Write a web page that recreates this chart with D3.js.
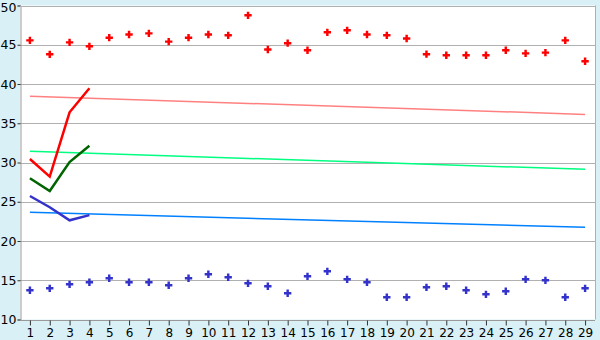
<!DOCTYPE html>
<html>
<head>
<meta charset="utf-8">
<script src="https://cdn.jsdelivr.net/npm/d3@7"></script>
<style>
  html, body { margin: 0; padding: 0; background: #d9f0f6; }
  svg { display: block; font-family: "DejaVu Sans", sans-serif; }
</style>
</head>
<body>
<svg id="chart" width="600" height="340"></svg>
<script>
// categories (x axis)
const days = d3.range(1, 30);
// scattered markers
const redPoints = [45.56, 43.78, 45.3, 44.8, 45.9, 46.3, 46.45, 45.4, 45.9, 46.3,
  46.2, 48.75, 44.4, 45.2, 44.3, 46.58, 46.84, 46.3, 46.2, 45.8,
  43.8, 43.66, 43.66, 43.66, 44.3, 43.9, 44.0, 45.56, 42.9];
const bluePoints = [13.72, 13.97, 14.48, 14.74, 15.25, 14.74, 14.74, 14.36, 15.25, 15.76,
  15.38, 14.61, 14.23, 13.34, 15.5, 16.14, 15.12, 14.74, 12.83, 12.83,
  14.1, 14.23, 13.72, 13.21, 13.6, 15.12, 14.99, 12.83, 13.97];
// short lines (first 4 days)
const redLine = [30.45, 28.2, 36.4, 39.45];
const greenLine = [28.0, 26.37, 30.06, 32.14];
const blueLine = [25.73, 24.3, 22.64, 23.3];
// trend lines: value at day 1 and day 29
const redTrend = [38.43, 36.13];
const greenTrend = [31.42, 29.13];
const blueTrend = [23.65, 21.74];
const yTicks = [10, 15, 20, 25, 30, 35, 40, 45, 50];

const svg = d3.select('#chart');
const pl = 20, pr = 595, pt = 5.5, pb = 319.5;

const x = d3.scalePoint().domain(days).range([pl, pr]).padding(0.5);
const y = d3.scaleLinear().domain([10, 50]).range([pb, pt]);

svg.append('rect')
  .attr('x', pl).attr('y', pt)
  .attr('width', pr - pl).attr('height', pb - pt)
  .attr('fill', 'white');

// grid
svg.append('g').selectAll('line')
  .data(yTicks.filter(d => d > 10))
  .join('line')
  .attr('x1', pl).attr('x2', pr)
  .attr('y1', d => Math.round(y(d)) + 0.5).attr('y2', d => Math.round(y(d)) + 0.5)
  .attr('stroke', '#b0b0b0').attr('stroke-width', 1);

// right border
svg.append('line')
  .attr('x1', pr + 0.5).attr('x2', pr + 0.5)
  .attr('y1', pt).attr('y2', pb)
  .attr('stroke', '#b0b0b0');

// y axis
const yAxis = svg.append('g')
  .attr('transform', `translate(${pl + 0.5},0)`)
  .call(d3.axisLeft(y).tickValues(yTicks).tickSize(3).tickPadding(1));
yAxis.select('.domain').attr('stroke', '#999');
yAxis.selectAll('line').attr('stroke', '#333');
yAxis.selectAll('text').attr('font-size', 12.5).attr('fill', '#000')
  .attr('font-family', '"DejaVu Sans", sans-serif');
// keep the top label inside the window
yAxis.selectAll('.tick text').filter(d => d === 50).attr('y', 1.5);

// x axis
const xAxis = svg.append('g')
  .attr('transform', `translate(0,${Math.round(pb) + 0.5})`)
  .call(d3.axisBottom(x).tickSize(5).tickPadding(3).tickSizeOuter(0));
xAxis.select('.domain').attr('stroke', '#999').attr('d', `M${pl},0H${pr}`);
xAxis.selectAll('line').attr('stroke', '#333');
xAxis.selectAll('text').attr('font-size', 12).attr('fill', '#000')
  .attr('font-family', '"DejaVu Sans", sans-serif');

// trend lines
const trends = [[redTrend, '#ff8080'], [greenTrend, '#00ff80'], [blueTrend, '#0080ff']];
trends.forEach(([t, c]) => {
  svg.append('line')
    .attr('x1', x(days[0])).attr('y1', y(t[0]))
    .attr('x2', x(days[days.length - 1])).attr('y2', y(t[1]))
    .attr('stroke', c).attr('stroke-width', 1.5);
});

// short lines
const line = d3.line().x((d, i) => x(days[i])).y(d => y(d));
[[redLine, '#ff0000'], [greenLine, '#006400'], [blueLine, '#3333cc']].forEach(([v, c]) => {
  svg.append('path')
    .attr('d', line(v))
    .attr('fill', 'none').attr('stroke', c).attr('stroke-width', 2.5);
});

// markers
const sym = d3.symbol().type(d3.symbolCross).size(30);
[[redPoints, '#ff0000'], [bluePoints, '#3333cc']].forEach(([v, c]) => {
  svg.append('g').selectAll('path')
    .data(v)
    .join('path')
    .attr('transform', (d, i) => `translate(${x(days[i])},${y(d)})`)
    .attr('d', sym)
    .attr('fill', c);
});

// top border
svg.append('line')
  .attr('x1', pl).attr('x2', pr + 1)
  .attr('y1', Math.round(pt) + 0.5).attr('y2', Math.round(pt) + 0.5)
  .attr('stroke', '#b0b0b0');
</script>
</body>
</html>
